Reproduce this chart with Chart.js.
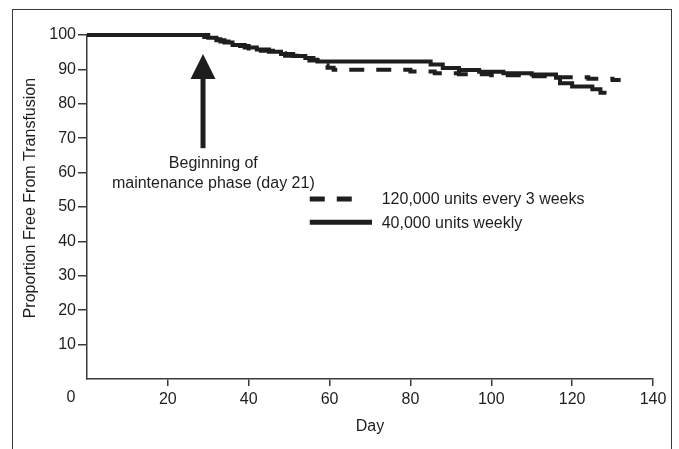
<!DOCTYPE html>
<html>
<head>
<meta charset="utf-8">
<script src="https://cdn.jsdelivr.net/npm/chart.js@4/dist/chart.umd.min.js"></script>
<style>
  html, body { margin: 0; padding: 0; background: #fff; }
  #wrap { position: relative; width: 679px; height: 449px; overflow: hidden; }
  #chart { position: absolute; left: 0; top: 0; }
  #frame { position: absolute; left: 12px; top: 9px; width: 658px; height: 460px;
           border: 1.5px solid #3a3a3a; pointer-events: none; }
</style>
</head>
<body>
<div id="wrap">
  <canvas id="chart" width="679" height="449"></canvas>
  <div id="frame"></div>
</div>
<script>
// Kaplan-Meier style: proportion free from transfusion vs day

// 120,000 units every 3 weeks (dashed)
const q3wDays   = [0, 28, 29, 31, 33, 35, 37, 40, 43, 46, 49, 52, 55, 57, 58, 59.5, 61, 80, 86, 92, 100, 108, 116, 124, 130, 132];
const q3wValues = [100, 100, 99.4, 98.8, 98.1, 97.4, 96.8, 96.1, 95.4, 94.7, 94.0, 93.3, 92.6, 91.9, 91.2, 90.5, 89.9, 89.4, 88.9, 88.6, 88.3, 88.0, 87.7, 87.3, 86.9, 86.9];

// 40,000 units weekly (solid)
const qwDays   = [0, 29, 30, 32, 34, 36, 39, 42, 45, 48, 51, 54, 56, 57, 85, 88, 92, 97, 103, 110, 116, 117, 120, 125, 127, 128.5];
const qwValues = [100, 100, 99.2, 98.5, 97.8, 97.1, 96.4, 95.8, 95.1, 94.5, 93.9, 93.3, 92.8, 92.3, 91.4, 90.4, 89.8, 89.3, 88.9, 88.5, 87.6, 86.0, 85.0, 84.2, 83.2, 83.2];

const seriesLabels = ['120,000 units every 3 weeks', '40,000 units weekly'];
const xTicks = [0, 20, 40, 60, 80, 100, 120, 140];
const yTicks = [10, 20, 30, 40, 50, 60, 70, 80, 90, 100];

// arrow annotation (data coordinates)
const arrowDay = 28.7, arrowTip = 94.5, arrowHeadBase = 87.2, arrowTail = 67.1;
const noteLines = ['Beginning of', 'maintenance phase (day 21)'];

const INK = '#1e1e1e';
const AXIS = '#3a3a3a';
const FONT = '"Liberation Sans", Arial, Helvetica, sans-serif';

Chart.defaults.font.family = FONT;
Chart.defaults.font.size = 16;
Chart.defaults.color = INK;

function pts(days, vals) { return days.map((d, i) => ({ x: d, y: vals[i] })); }

const extras = {
  id: 'extras',
  afterDraw(chart) {
    const { ctx, scales: { x, y } } = chart;
    ctx.save();
    ctx.fillStyle = INK;
    ctx.font = '16px ' + FONT;
    // shared origin label
    ctx.textAlign = 'center'; ctx.textBaseline = 'middle';
    ctx.fillText('0', x.left - 16, x.top + 19);

    // arrow
    const ax = x.getPixelForValue(arrowDay);
    const tipY = y.getPixelForValue(arrowTip), baseY = y.getPixelForValue(arrowHeadBase), tailY = y.getPixelForValue(arrowTail);
    ctx.fillRect(ax - 2.5, baseY - 1, 5, tailY - baseY + 1);
    ctx.beginPath();
    ctx.moveTo(ax, tipY); ctx.lineTo(ax + 12.5, baseY); ctx.lineTo(ax - 12.5, baseY); ctx.closePath();
    ctx.fill();

    // note text
    const nx = x.getPixelForValue(31.25);
    ctx.fillText(noteLines[0], nx, y.getPixelForValue(62.6));
    ctx.fillText(noteLines[1], nx, y.getPixelForValue(56.8));

    // legend
    const lx0 = x.getPixelForValue(55.1), lx1 = x.getPixelForValue(70.5), tx = x.getPixelForValue(72.9);
    const rows = [y.getPixelForValue(52.3), y.getPixelForValue(45.6)];
    chart.data.datasets.forEach((ds, i) => {
      ctx.save();
      ctx.strokeStyle = ds.borderColor; ctx.lineWidth = 5;
      ctx.setLineDash(ds.borderDash || []);
      ctx.beginPath(); ctx.moveTo(lx0, rows[i]); ctx.lineTo(i === 0 ? lx0 + 45 : lx1, rows[i]); ctx.stroke();
      ctx.restore();
      ctx.textAlign = 'left';
      ctx.fillText(ds.label, tx, rows[i] + 1);
    });
    ctx.restore();
  }
};

new Chart(document.getElementById('chart'), {
  type: 'line',
  data: {
    datasets: [
      { label: seriesLabels[0], data: pts(q3wDays, q3wValues), borderColor: INK, borderWidth: 4, borderDash: [15, 12],
        stepped: true, pointRadius: 0, fill: false, clip: false },
      { label: seriesLabels[1], data: pts(qwDays, qwValues), borderColor: INK, borderWidth: 4,
        stepped: true, pointRadius: 0, fill: false, clip: false }
    ]
  },
  options: {
    responsive: false, animation: false,
    layout: { padding: { top: 35, right: 26, bottom: 0, left: 0 } },
    plugins: { legend: { display: false }, tooltip: { enabled: false } },
    scales: {
      x: {
        type: 'linear', min: 0, max: 140,
        afterBuildTicks(s) { s.ticks = xTicks.filter(v => v !== 0).map(v => ({ value: v })); },
        afterFit(s) { s.height = 70; },
        ticks: { padding: 4, color: INK, font: { size: 16 } },
        grid: { drawOnChartArea: false, tickLength: 7, color: AXIS, lineWidth: 1.5 },
        border: { color: AXIS, width: 1.5 },
        title: { display: true, text: 'Day', color: INK, font: { size: 16 }, padding: { top: 0, bottom: 13 } }
      },
      y: {
        type: 'linear', min: 0, max: 100,
        afterBuildTicks(s) { s.ticks = yTicks.map(v => ({ value: v })); },
        afterFit(s) { s.width = 87; },
        ticks: { padding: 2, color: INK, font: { size: 16 } },
        grid: { drawOnChartArea: false, tickLength: 9, color: AXIS, lineWidth: 1.5 },
        border: { color: AXIS, width: 1.5 },
        // leading spaces nudge the rotated title up to where the reference has it
        title: { display: true, text: '    Proportion Free From Transfusion', color: INK, font: { size: 16 }, padding: { top: 21, bottom: 0 } }
      }
    }
  },
  plugins: [extras]
});
</script>
</body>
</html>
